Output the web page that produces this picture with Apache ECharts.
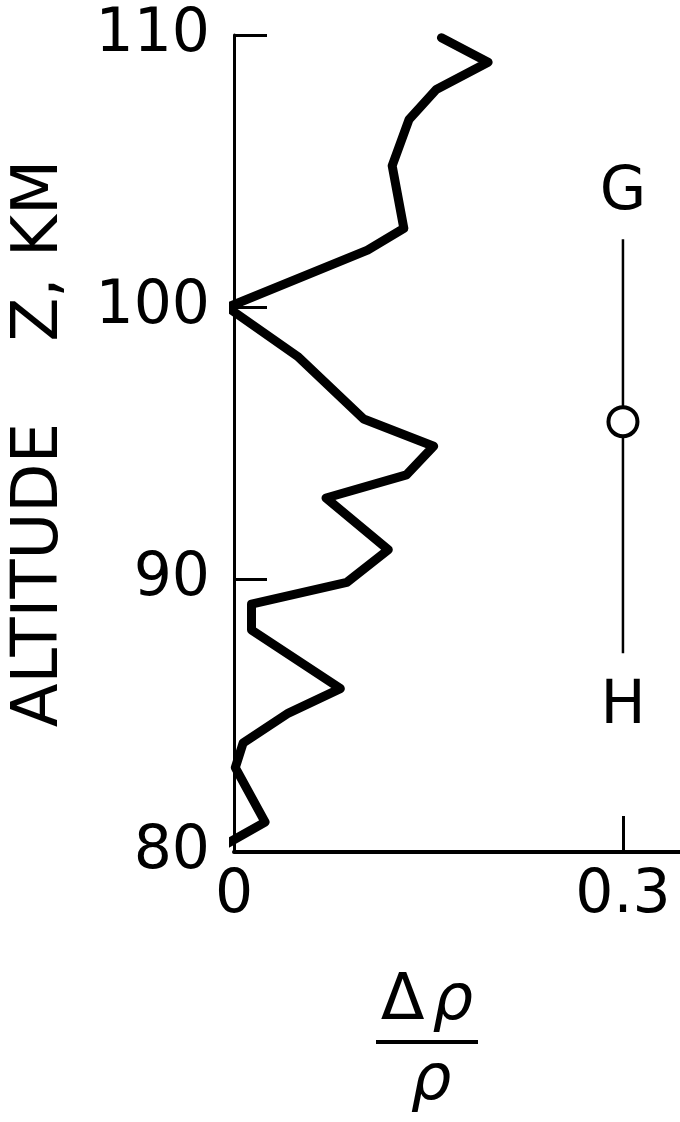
<!DOCTYPE html>
<html>
<head>
<meta charset="utf-8">
<script src="https://cdn.jsdelivr.net/npm/echarts@6/dist/echarts.min.js"></script>
<style>
  html, body { margin: 0; padding: 0; background: #ffffff; }
  #chart { width: 680px; height: 1122px; }
</style>
</head>
<body>
<div id="chart"></div>
<script>
// Density perturbation profile: altitude (km) and relative deviation Δρ/ρ
const altitudeKm = [109.9, 109.0, 108.0, 106.9, 105.2, 102.9, 102.1, 100.0, 98.2, 95.9,
                    94.9, 93.85, 93.0, 91.1, 89.9, 89.1, 88.15, 86.0, 85.1, 84.0, 83.1, 81.1, 80.1];
const densityRatio = [0.160, 0.196, 0.156, 0.135, 0.122, 0.131, 0.103, -0.005, 0.049, 0.100,
                      0.154, 0.133, 0.071, 0.119, 0.087, 0.0135, 0.0135, 0.082, 0.042, 0.007, 0.001, 0.024, -0.013];

// Axis ticks
const altitudeTicks = [80, 90, 100, 110];
const ratioTicks = [0, 0.3];

// G–H range bar with its centre marker
const rangeRatio = 0.3;
const rangeKm = [102.5, 87.3];
const rangeCentreKm = 95.8;
const rangeLabels = ['G', 'H'];
const rangeLabelKm = [104.2, 85.3];

const FONT = 'DejaVu Sans';
const profile = altitudeKm.map((z, i) => [densityRatio[i], z]);

const chart = echarts.init(document.getElementById('chart'), null, { renderer: 'canvas' });
chart.setOption({
  backgroundColor: '#ffffff',
  animation: false,
  grid: { left: 229, right: 0, top: 35, bottom: 270, containLabel: false },
  xAxis: {
    type: 'value',
    min: 0,
    max: 0.344,
    axisLine: { onZero: false, lineStyle: { color: '#000', width: 4 } },
    axisTick: { inside: true, length: 36, customValues: ratioTicks, lineStyle: { color: '#000', width: 3 } },
    axisLabel: {
      customValues: ratioTicks,
      margin: 14,
      color: '#000',
      fontFamily: FONT,
      fontSize: 60,
      formatter: v => String(v)
    },
    splitLine: { show: false },
    name: '{d|Δ}{r|ρ}\n{bar| }\n{r|ρ}',
    nameLocation: 'middle',
    nameGap: 118,
    nameTextStyle: {
      padding: [0, 60, 0, 0],
      rich: {
        d: { fontFamily: FONT, fontSize: 64, color: '#000', lineHeight: 64, align: 'center' },
        r: { fontFamily: FONT, fontSize: 64, fontStyle: 'italic', color: '#000', lineHeight: 64, align: 'center', padding: [0, 0, 0, 8] },
        bar: { width: 102, height: 4, lineHeight: 16, backgroundColor: '#000', align: 'center', fontSize: 4 }
      }
    }
  },
  yAxis: {
    type: 'value',
    min: altitudeTicks[0],
    max: altitudeTicks[altitudeTicks.length - 1],
    interval: 10,
    axisLine: { onZero: false, lineStyle: { color: '#000', width: 3 } },
    axisTick: { inside: true, length: 33, lineStyle: { color: '#000', width: 3 } },
    axisLabel: { margin: 24, color: '#000', fontFamily: FONT, fontSize: 60 },
    splitLine: { show: false },
    name: 'ALTITUDE    Z, KM',
    nameLocation: 'middle',
    nameRotate: 90,
    nameGap: 162,
    nameTextStyle: { color: '#000', fontFamily: FONT, fontSize: 64 }
  },
  series: [
    {
      type: 'line',
      data: profile,
      symbol: 'none',
      clip: false,
      lineStyle: { color: '#000', width: 9, join: 'round', cap: 'round' },
      z: 3
    },
    {
      type: 'line',
      data: rangeKm.map(z => [rangeRatio, z]),
      symbol: 'none',
      clip: false,
      lineStyle: { color: '#000', width: 2.5 },
      z: 2
    },
    {
      type: 'scatter',
      data: [[rangeRatio, rangeCentreKm]],
      symbol: 'circle',
      symbolSize: 29,
      itemStyle: { color: '#fff', borderColor: '#000', borderWidth: 4, opacity: 1 },
      z: 4
    },
    {
      type: 'scatter',
      data: rangeLabels.map((t, i) => ({ value: [rangeRatio, rangeLabelKm[i]], name: t })),
      symbolSize: 1,
      itemStyle: { color: 'rgba(0,0,0,0)', opacity: 1 },
      label: {
        show: true,
        position: 'inside',
        formatter: p => p.name,
        color: '#000',
        fontFamily: FONT,
        fontSize: 60
      },
      z: 4
    }
  ]
});
</script>
</body>
</html>
